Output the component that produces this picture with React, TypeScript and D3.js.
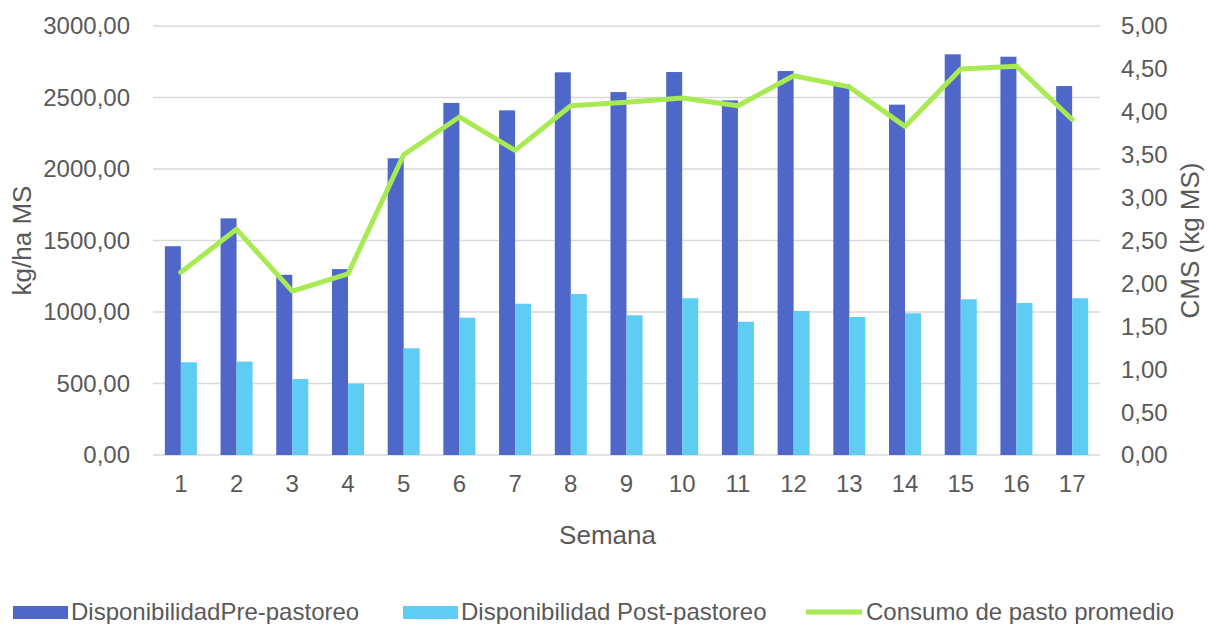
import React from "react";
import * as d3 from "d3";

const semanas = ["1","2","3","4","5","6","7","8","9","10","11","12","13","14","15","16","17"];
const prePastoreo = [1460,1655,1260,1300,2075,2462,2410,2676,2538,2678,2480,2685,2594,2450,2802,2785,2580];
const postPastoreo = [648,653,531,499,746,960,1058,1126,977,1096,932,1007,965,991,1089,1063,1096];
const consumo = [2.13,2.63,1.91,2.11,3.50,3.94,3.55,4.07,4.11,4.16,4.07,4.42,4.29,3.83,4.50,4.53,3.91];
const leftTicks = [0,500,1000,1500,2000,2500,3000];
const rightTicks = [0,0.5,1,1.5,2,2.5,3,3.5,4,4.5,5];
const seriesNames = ["DisponibilidadPre-pastoreo","Disponibilidad Post-pastoreo","Consumo de pasto promedio"];

const W = 1208, H = 624;
const left = 153, right = 1100, top = 26, bottom = 455;
const C1 = "#4E67C8", C2 = "#5ECCF3", C3 = "#A7EA52";
const TXT = "#595959", GRID = "#D9D9D9";
const FONT = "'Liberation Sans', Arial, sans-serif";

const fmt = (v: number) => v.toFixed(2).replace(".", ",");

export default function App() {
  const x = d3.scaleBand<string>().domain(semanas).range([left, right]).paddingInner(0).paddingOuter(0);
  const bw = x.bandwidth();
  const gw = bw * 0.575;
  const xs = d3.scaleBand<string>().domain(["pre","post"]).range([(bw - gw) / 2, (bw + gw) / 2]);
  const yL = d3.scaleLinear().domain([0, 3000]).range([bottom, top]);
  const yR = d3.scaleLinear().domain([0, 5]).range([bottom, top]);
  const line = d3.line<number>()
    .x((_, i) => (x(semanas[i]) as number) + bw / 2)
    .y((d) => yR(d));

  return (
    <svg width={W} height={H} style={{ position: "absolute", left: 0, top: 0, background: "#fff" }} fontFamily={FONT}>
      <rect width={W} height={H} fill="#fff" />
      {leftTicks.map((t) => (
        <line key={"g" + t} x1={left} x2={right} y1={yL(t)} y2={yL(t)} stroke={GRID} strokeWidth={1.5} />
      ))}
      {leftTicks.map((t) => (
        <text key={"l" + t} x={130} y={yL(t)} dy="0.35em" textAnchor="end" fontSize={24} fill={TXT}>{fmt(t)}</text>
      ))}
      {rightTicks.map((t) => (
        <text key={"r" + t} x={1121} y={yR(t)} dy="0.35em" textAnchor="start" fontSize={24} fill={TXT}>{fmt(t)}</text>
      ))}
      {semanas.map((s, i) => (
        <g key={"b" + s}>
          <rect x={(x(s) as number) + (xs("pre") as number)} y={yL(prePastoreo[i])} width={xs.bandwidth()} height={bottom - yL(prePastoreo[i])} fill={C1} />
          <rect x={(x(s) as number) + (xs("post") as number)} y={yL(postPastoreo[i])} width={xs.bandwidth()} height={bottom - yL(postPastoreo[i])} fill={C2} />
        </g>
      ))}
      <path d={line(consumo) || ""} fill="none" stroke={C3} strokeWidth={5} strokeLinejoin="round" strokeLinecap="round" />
      {semanas.map((s) => (
        <text key={"x" + s} x={(x(s) as number) + bw / 2} y={484} dy="0.35em" textAnchor="middle" fontSize={24} fill={TXT}>{s}</text>
      ))}
      <text x={607.5} y={535} dy="0.35em" textAnchor="middle" fontSize={26} fill={TXT}>Semana</text>
      <text transform={`translate(22,${(top + bottom) / 2}) rotate(-90)`} dy="0.35em" textAnchor="middle" fontSize={26} fill={TXT}>kg/ha MS</text>
      <text transform={`translate(1190,${(top + bottom) / 2}) rotate(-90)`} dy="0.35em" textAnchor="middle" fontSize={26} fill={TXT}>CMS (kg MS)</text>
      <g>
        <rect x={13} y={606} width={55} height={13} fill={C1} />
        <text x={71} y={612} dy="0.35em" fontSize={24} fill={TXT}>{seriesNames[0]}</text>
        <rect x={403} y={606} width={55} height={13} fill={C2} />
        <text x={461} y={612} dy="0.35em" fontSize={24} fill={TXT}>{seriesNames[1]}</text>
        <line x1={806} x2={862} y1={612} y2={612} stroke={C3} strokeWidth={5} />
        <text x={866} y={612} dy="0.35em" fontSize={24} fill={TXT}>{seriesNames[2]}</text>
      </g>
    </svg>
  );
}
